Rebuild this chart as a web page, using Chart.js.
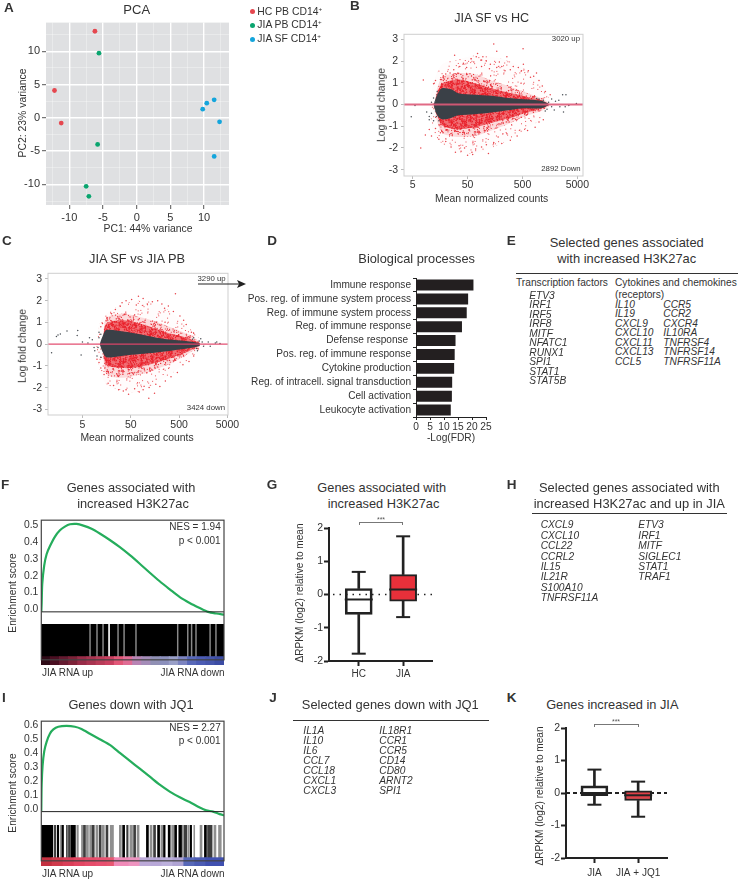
<!DOCTYPE html>
<html><head><meta charset="utf-8">
<script src="https://cdn.jsdelivr.net/npm/chart.js@4"></script>
<style>
html,body{margin:0;padding:0;background:#fff}
#fig{position:relative;width:738px;height:880px;overflow:hidden;font-family:"Liberation Sans",Arial,sans-serif;color:#333}
#fig canvas{position:absolute}
.t{position:absolute;white-space:pre;line-height:1}
.r{position:absolute;background:#333}
sup{font-size:.6em;line-height:0;vertical-align:.55em}
</style></head><body><div id="fig"></div>
<script>
/* ---------- A: PCA ---------- */
const pcaHcX=[-6.2,-12.2,-11.2], pcaHcY=[13,4.1,-0.8];
const pcaPbX=[-5.6,-5.8,-7.5,-7.1], pcaPbY=[9.7,-4,-10.3,-11.8];
const pcaSfX=[11.5,10.4,9.8,12.3,11.5], pcaSfY=[2.7,2.2,1.3,-0.6,-5.8];
const pcaLegend=["HC PB CD14","JIA PB CD14","JIA SF CD14"];
const pcaTicks=[-12.5,-10,-7.5,-5,-2.5,0,2.5,5,7.5,10,12.5];

/* ---------- B: MA plot, cloud outlines ---------- */
const maTicksX=[5,50,500,5000], maTicksY=[-3,-2,-1,0,1,2,3];
const bCoreX=[12,14,17,25,34,68,136,275,550,1100,1500];
const bCoreUp=[0,.45,.75,.7,.52,.45,.4,.3,.24,.17,.03];
const bCoreDn=[0,-.5,-.68,-.62,-.5,-.45,-.37,-.26,-.17,-.17,-.03];
const bInnerX=[13,17,25,34,68,136,275,550,1100,1500];
const bInnerUp=[.3,.95,1.1,1.15,.98,.75,.55,.38,.2,.05];
const bInnerDn=[-.3,-.95,-1.1,-1.15,-1.05,-.85,-.65,-.4,-.2,-.05];
const bMidUp=[.5,1.25,1.4,1.45,1.4,1.1,.85,.58,.3,.08];
const bMidDn=[-.55,-1.3,-1.45,-1.5,-1.45,-1.2,-.9,-.55,-.3,-.08];
const bOuterX=[10,12,17,34,68,136,275,550,1100,1700];
const bOuterUp=[0,1,1.84,2.07,2.25,2.2,2,1.65,1.05,0];
const bOuterDn=[0,-1.3,-1.8,-2.2,-2.25,-2,-1.65,-1.2,-.65,0];
const bRedDots=[[150,2.78],[513,2.56],[76,2.35],[72,2.2],[29,2.27],[7.8,1.13],[170,2.45],[95,2.2],[260,2.2],[110,2],[42,1.9],[58,2.1],[65,1.95],[88,2.05],[130,1.85],[190,1.95],[210,1.75],[340,1.75],[520,1.85],[640,1.55],[900,1.45],[1000,1.1],[1150,.85],[800,1.3],[700,1.25],[480,1.55],[420,1.7],[300,1.6],[240,1.55],[170,1.7],[125,1.65],[90,1.75],[48,1.7],[36,1.75],[28,1.6],[24,1.45],[20,1.4],[16,1.15],[13,1.1],[12,.95],[18,1.3],[1300,.6],[1600,.45],[50,-2.34],[7,-2],[60,-2.2],[38,-2.15],[30,-2.2],[62,-2.3],[120,-2.25],[90,-1.95],[25,-1.95],[20,-1.7],[15,-1.6],[11,-1.45],[8.5,-1.4],[10,-1.15],[13,-1.1],[16,-1.3],[70,-2.05],[150,-1.75],[210,-1.8],[300,-1.65],[400,-1.45],[620,-1.2],[850,-1.05],[1000,-.8],[1200,-.7],[180,-1.5],[260,-1.35],[110,-1.85],[35,-1.9],[44,-2]];
const bGreyDots=[[4.7,-.56],[5.5,-.05],[9,-.35],[10,-.55],[11,-.4],[12,-.75],[13,-.3],[11,.1],[12,.3],[10,-.7],[13.5,-.55],[14,.45],[14,.6],[15,-.75],[12.5,-.15],[13,.15],[1500,.1],[1700,.25],[2000,.15],[2300,.2],[2700,.45],[3100,.45],[2400,-.1],[3000,-.1],[3500,-.05],[4800,.05],[2800,-.35],[1900,-.25],[1700,-.1],[1300,-.3],[1000,.25],[1200,.2],[900,.28],[1400,-.22]];

/* ---------- C: MA plot ---------- */
const cCoreX=[11.4,13,15.7,35,77,170,375,830,1340];
const cCoreUp=[0,.35,.65,.58,.45,.3,.2,.12,.05];
const cCoreDn=[0,-.35,-.6,-.53,-.45,-.38,-.29,-.18,-.08];
const cInnerX=[13.4,15.7,35,77,170,375,830,1340];
const cInnerUp=[.2,.95,1.1,.95,.7,.45,.25,.05];
const cInnerDn=[-.2,-.95,-1.1,-1.05,-.85,-.6,-.3,-.05];
const cMidUp=[.3,1.2,1.4,1.25,1.03,.73,.42,.1];
const cMidDn=[-.5,-1.4,-1.55,-1.4,-1.15,-.85,-.4,-.1];
const cOuterX=[9.5,11.4,15.7,35,77,170,375,830,1340,1800];
const cOuterUp=[0,.95,1.4,1.86,2,1.9,1.4,.73,.25,0];
const cOuterDn=[0,-1.15,-1.85,-2.15,-2.2,-1.77,-1.3,-.7,-.25,0];
const cRedDots=[[420,2.32],[118,-2.49],[155,-2.26],[72,2.2],[90,2.1],[40,2],[52,2.05],[33,1.9],[140,1.95],[180,2],[220,1.85],[110,1.85],[300,1.75],[250,1.65],[380,1.5],[520,1.3],[620,1.1],[700,.9],[900,.55],[1000,.5],[24,1.6],[20,1.4],[16,1.2],[13,.95],[12,.8],[30,1.75],[65,1.8],[45,-2.3],[60,-2.05],[35,-2.15],[28,-2.1],[22,-1.9],[17,-1.8],[14,-1.4],[12,-1.1],[11,-.85],[10,-.7],[90,-2.1],[120,-2],[165,-1.85],[200,-1.95],[260,-1.7],[340,-1.5],[460,-1.3],[600,-.95],[800,-.8],[1000,-.55],[40,-2.1],[75,-2.2]];
const cGreyDots=[[1.56,.42],[1.75,.47],[1.45,.35],[2.4,.6],[1.15,-.4],[3.9,.4],[4,.63],[5,.1],[4.7,-.5],[7,.3],[8,.2],[6.5,.05],[8.7,-.15],[9,-.3],[10,-.55],[10.5,-.15],[11,.55],[11,.3],[12,-.6],[12,.45],[1500,.1],[2000,.1],[2800,.05],[3500,.03],[1600,-.1],[2200,-.1],[1400,.25],[1200,-.3],[1000,.3],[1300,.15],[1150,-.2],[950,.22],[3000,.1]];

/* ---------- D: biological processes ---------- */
const bpLabels=["Immune response","Pos. reg. of immune system process","Reg. of immune system process","Reg. of immune response","Defense response ","Pos. reg. of immune response","Cytokine production","Reg. of intracell. signal transduction","Cell activation","Leukocyte activation"];
const bpValues=[20.4,18.5,18,16.3,14,13.7,13.5,12.8,12.7,12.3];
const bpTicks=[0,5,10,15,20,25];

/* ---------- F and I: enrichment curves ---------- */
const gseaFRank=[0,.2,.5,1.6,2.9,4.7,7.5,10.2,12.9,15.7,19.3,23,27.5,32,37.5,43,48.5,53.9,59.4,64.8,70.3,75.8,81.2,86.7,91.3,95.8,100];
const gseaFScore=[0,.05,.164,.278,.345,.392,.45,.488,.51,.524,.526,.516,.497,.469,.43,.387,.339,.288,.234,.183,.135,.088,.053,.023,0,-.01,-.017];
const gseaFTicks=[0,.1,.2,.3,.4,.5];
const gseaFGaps=[26.8,30.6,33.9,42.1,45.4,51.9,74.7,80.2,82.3,84.7,92.4,95.6];
const gseaFGapBright=[37.2];
const gseaFStripEdges=[0,5,10,15,20,25,30,35,40,45,50,55,60,65,70,75,80,85,90,95,100];
const gseaFStripColors=["#2e0a16","#4a0f22","#641a30","#7c2238","#982c48","#a83450","#b83c58","#c84060","#e25878","#e06c94","#b884b4","#a48cb8","#9090b4","#8c90bc","#9aa0c8","#7c84c0","#5868b8","#4c5cb4","#4656ac","#3c4ca4"];
const gseaIRank=[0,.2,.7,1.6,2.9,4.7,6.6,9.3,13.8,18.4,22,26.6,32,37.5,43,48.5,53.9,59.4,64.8,70.3,75.8,81.2,86.7,90.3,94,97.6,100];
const gseaIScore=[0,.192,.328,.43,.498,.555,.586,.605,.611,.605,.589,.555,.516,.476,.419,.362,.306,.249,.192,.143,.102,.068,.029,.009,0,-.018,-.027];
const gseaITicks=[0,.1,.2,.3,.4,.5,.6];
const gseaIBlack=[[0,6.5],[8.9,9.7],[11.5,12.3],[16.5,18.8],[44.6,45.7],[57.6,58.7],[63.7,64.8],[67,67.8],[69.5,70.6],[73,74.1],[75.3,76.8],[81.6,82.3],[89.3,90.4]];
const gseaIDark=[[7.3,8.1],[13.9,14.4],[15,16.1],[23.2,24.3],[28,29.1],[31.8,32.9],[35.5,36.6],[46.8,47.6],[50.6,51.7],[61.5,62.6],[78.2,79.7],[91,93.5]];
const gseaIGrey=[[10.6,11.3],[19.6,20.4],[22.1,22.9],[24.8,25.9],[26.6,27.7],[30,31.1],[33.5,34.6],[37.8,39.6],[42.8,43.9],[48.6,50],[52.5,53.6],[59.6,60.7],[65.5,67.7],[71.4,72.5],[77,77.8],[80.3,81.1],[83.5,84],[86.9,88],[94.5,95.6],[97,98.5]];
const gseaIStripEdges=[0,6,12,18,24,30,36,40,48,54,60,66,72,78,84,90,100];
const gseaIStripColors=["#c43040","#d03a4c","#da3f58","#e24662","#e64c6a","#e85070","#e85670","#f08ab8","#ee94c0","#bcaad8","#b8a8d8","#bcb0dc","#b0a4d4","#5868b8","#4c5cb4","#4050b0"];

/* ---------- G and K: box plots (whisker low, Q1, median, Q3, whisker high) ---------- */
const boxGLabels=["HC","JIA"], boxGMin=[-1.78,-.68], boxGQ1=[-.6,-.2], boxGMed=[-.15,.15], boxGQ3=[.18,.6], boxGMax=[.68,1.75];
const boxKLabels=["JIA","JIA + JQ1"], boxKMin=[-.36,-.73], boxKQ1=[-.08,-.23], boxKMed=[0,-.07], boxKQ3=[.22,.07], boxKMax=[.72,.35];
const boxTicks=[-2,-1,0,1,2];

/* ---------- gene lists ---------- */
const eTf=["ETV3","IRF1","IRF5","IRF8","MITF","NFATC1","RUNX1","SPI1","STAT1","STAT5B"];
const eCyt1=["IL10","IL19","CXCL9","CXCL10","CXCL11","CXCL13","CCL5"];
const eCyt2=["CCR5","CCR2","CXCR4","IL10RA","TNFRSF4","TNFRSF14","TNFRSF11A"];
const hCol1=["CXCL9","CXCL10","CCL22","CCRL2","IL15","IL21R","S100A10","TNFRSF11A"];
const hCol2=["ETV3","IRF1","MITF","SIGLEC1","STAT1","TRAF1"];
const jCol1=["IL1A","IL10","IL6","CCL7","CCL18","CXCL1","CXCL3"];
const jCol2=["IL18R1","CCR1","CCR5","CD14","CD80","ARNT2","SPI1"];

/* ---------- helpers ---------- */
const fig=document.getElementById('fig');
const TXT='#333', AXIS='#222';
Chart.defaults.font.family='"Liberation Sans",Arial,sans-serif';
Chart.defaults.color=TXT;
Chart.defaults.animation=false;
Chart.defaults.responsive=false;
Chart.register({id:'panel',
  beforeDraw(c,a,o){ if(o.bg){const r=c.chartArea;c.ctx.fillStyle=o.bg;c.ctx.fillRect(r.left,r.top,r.width,r.height);} },
  afterDatasetsDraw(c,a,o){ if(o.frame){const r=c.chartArea;c.ctx.save();c.ctx.strokeStyle=o.frame;c.ctx.lineWidth=o.frameWidth||1;c.ctx.strokeRect(r.left,r.top,r.width,r.height);c.ctx.restore();} }
});
function T(s,x,y,o={}){const d=document.createElement('div');d.className='t';d.innerHTML=s;
  const a=o.a||'c',tx=a==='l'?'0':a==='r'?'-100%':'-50%';
  d.style.left=x+'px';d.style.top=y+'px';d.style.fontSize=(o.s||10.3)+'px';
  d.style.transform=`translate(${tx},-50%)`+(o.rot?' rotate(-90deg)':'');
  if(o.b)d.style.fontWeight='bold'; if(o.i)d.style.fontStyle='italic'; if(o.c)d.style.color=o.c;
  fig.appendChild(d);}
function L(x1,y1,x2,y2,c='#333'){const d=document.createElement('div');d.className='r';d.style.left=x1+'px';d.style.top=y1+'px';d.style.width=Math.max(x2-x1,1)+'px';d.style.height=Math.max(y2-y1,1)+'px';d.style.background=c;fig.appendChild(d);}
function list(a,x,y,dy){a.forEach((g,i)=>T(g,x,y+i*dy,{a:'l',i:1,s:10.2}));}
function cv(b,m){const c=document.createElement('canvas');c.width=b.r-b.l+m.l+m.r;c.height=b.b-b.t+m.t+m.b;c.style.left=(b.l-m.l)+'px';c.style.top=(b.t-m.t)+'px';c.style.width=c.width+'px';c.style.height=c.height+'px';fig.appendChild(c);return c;}
const pts=(xs,ys)=>xs.map((x,i)=>({x,y:ys[i]}));
const pairs=a=>a.map(p=>({x:p[0],y:p[1]}));
const fitW=w=>s=>{s.width=w;}, fitH=h=>s=>{s.height=h;};
const setTicks=v=>s=>{s.ticks=v.map(value=>({value}));};
/* fill style only, for the dense scatter clouds: a fixed, irregular stipple tile over a faint wash */
function stipple(count,wash,dot){const n=128,c=document.createElement('canvas');c.width=c.height=n;const g=c.getContext('2d');
  g.fillStyle=wash;g.fillRect(0,0,n,n);g.fillStyle=dot;
  for(let i=1;i<=count;i++){
    const x=((i*0.7548776662+0.09*Math.sin(i*1.7))%1+1)%1*n, y=((i*0.5698402910+0.09*Math.cos(i*2.3))%1+1)%1*n;
    g.fillRect(x,y,1,1);}
  return g.createPattern(c,'repeat');}
function area(xs,up,dn,color){return [
  {data:pts(xs,up),borderWidth:0,pointRadius:0,tension:.3,fill:'+1',backgroundColor:color},
  {data:pts(xs,dn),borderWidth:0,pointRadius:0,tension:.3,fill:false}];}

/* ---------- A ---------- */
(function(){const b={l:46,t:22,r:229,b:205},m={l:46,t:8,r:10,b:20};
new Chart(cv(b,m),{type:'line',data:{datasets:[
  {label:pcaLegend[0],data:pts(pcaHcX,pcaHcY),showLine:false,pointRadius:2.4,pointBorderWidth:0,pointBackgroundColor:'#e5474f'},
  {label:pcaLegend[1],data:pts(pcaPbX,pcaPbY),showLine:false,pointRadius:2.4,pointBorderWidth:0,pointBackgroundColor:'#0aa56f'},
  {label:pcaLegend[2],data:pts(pcaSfX,pcaSfY),showLine:false,pointRadius:2.4,pointBorderWidth:0,pointBackgroundColor:'#14a5dc'}]},
 options:{layout:{padding:{top:m.t,right:m.r}},plugins:{legend:{display:false},panel:{bg:'#dfe0e2'}},
  scales:{
   x:{type:'linear',min:-13.46,max:13.7,afterFit:fitH(m.b),afterBuildTicks:setTicks(pcaTicks),border:{display:false},
     grid:{color:c=>c.tick.value%5===0?'#fff':'rgba(255,255,255,.55)',lineWidth:c=>c.tick.value%5===0?1.4:.6,tickLength:4,tickColor:c=>c.tick.value%5===0?'#555':'transparent',tickWidth:1},
     ticks:{autoSkip:false,maxRotation:0,padding:2,font:{size:11},callback:v=>v%5===0?v:''}},
   y:{type:'linear',min:-13.1,max:14.3,afterFit:fitW(m.l),afterBuildTicks:setTicks(pcaTicks),border:{display:false},
     grid:{color:c=>c.tick.value%5===0?'#fff':'rgba(255,255,255,.55)',lineWidth:c=>c.tick.value%5===0?1.4:.6,tickLength:4,tickColor:c=>c.tick.value%5===0?'#555':'transparent',tickWidth:1},
     ticks:{autoSkip:false,padding:2,font:{size:11},callback:v=>v%5===0?v:''}}}}});
})();
T('A',4,8,{a:'l',b:1,s:13.5});
T('PCA',136.7,8.7,{s:13});
[['#e5474f',11.7],['#0aa56f',25],['#14a5dc',39.3]].forEach((p,i)=>{
  const d=document.createElement('div');d.style.cssText=`position:absolute;left:249.5px;top:${p[1]-2.5}px;width:5px;height:5px;border-radius:50%;background:${p[0]}`;fig.appendChild(d);
  T(pcaLegend[i]+'<sup>+</sup>',257.3,p[1],{a:'l',s:10.4});});
T('PC1: 44% variance',148,229,{s:10.4});
T('PC2: 23% variance',22.7,112.7,{s:10.4,rot:1});

/* ---------- B, C ---------- */
function maChart(b,m,xMin,xMax,yMin,yMax,S,lineW,lineC,xPad){
 const ds=[
  {data:[{x:xMin,y:0},{x:xMax,y:0}],borderColor:lineC,borderWidth:lineW,pointRadius:0},
  {data:pairs(S.grey),showLine:false,pointRadius:.75,pointBorderWidth:0,pointBackgroundColor:'#4a5056'},
  ...area(S.coreX,S.coreUp,S.coreDn,'#3a4047'),
  {data:pairs(S.red),showLine:false,pointRadius:.75,pointBorderWidth:0,pointBackgroundColor:'#e8434a'},
  ...area(S.innerX,S.innerUp,S.innerDn,stipple(9000,'rgba(232,38,46,.6)','#e8222c')),
  ...area(S.innerX,S.midUp,S.midDn,stipple(3600,'rgba(235,50,58,.16)','#e8303a')),
  ...area(S.outerX,S.outerUp,S.outerDn,stipple(800,'rgba(238,70,78,.015)','#ec5058'))];
 new Chart(cv(b,m),{type:'line',data:{datasets:ds},options:{layout:{padding:{top:m.t,right:m.r}},
  plugins:{legend:{display:false},panel:{frame:'#cfcfcf'}},
  scales:{
   x:{type:'logarithmic',min:xMin,max:xMax,afterFit:fitH(m.b),afterBuildTicks:setTicks(maTicksX),border:{display:false},
     grid:{drawOnChartArea:false,tickLength:3,tickColor:'#bbb'},ticks:{autoSkip:false,maxRotation:0,padding:xPad,font:{size:10.5},callback:v=>String(v)}},
   y:{type:'linear',min:yMin,max:yMax,afterFit:fitW(m.l),afterBuildTicks:setTicks(maTicksY),border:{display:false},
     grid:{drawOnChartArea:false,tickLength:3,tickColor:'#bbb'},ticks:{autoSkip:false,padding:3,font:{size:10.5}}}}}});
}
maChart({l:404,t:32.7,r:583,b:175.7},{l:30,t:8,r:14,b:18},3.47,6340,-3.29,3.23,
 {coreX:bCoreX,coreUp:bCoreUp,coreDn:bCoreDn,innerX:bInnerX,innerUp:bInnerUp,innerDn:bInnerDn,midUp:bMidUp,midDn:bMidDn,outerX:bOuterX,outerUp:bOuterUp,outerDn:bOuterDn,red:bRedDots,grey:bGreyDots},2,'rgba(222,90,120,.9)',0);
maChart({l:48.3,t:272.3,r:228.3,b:415.7},{l:30,t:8,r:14,b:18},.97,5130,-3.26,3.26,
 {coreX:cCoreX,coreUp:cCoreUp,coreDn:cCoreDn,innerX:cInnerX,innerUp:cInnerUp,innerDn:cInnerDn,midUp:cMidUp,midDn:cMidDn,outerX:cOuterX,outerUp:cOuterUp,outerDn:cOuterDn,red:cRedDots,grey:cGreyDots},1.2,'rgba(226,70,105,.95)',1);
T('B',350,6,{a:'l',b:1,s:13.5});
T('JIA SF vs HC',491.7,18.3,{s:12.6});
T('3020 up',580,38.7,{a:'r',s:7.8});
T('2892 Down',580.7,168.7,{a:'r',s:7.8});
T('Log fold change',381.7,105.3,{s:10.4,rot:1});
T('Mean normalized counts',491.7,199.3,{s:10.4});
T('C',2,241,{a:'l',b:1,s:13.5});
T('JIA SF vs JIA PB',137,259,{s:12.8});
T('3290 up',225.7,278.7,{a:'r',s:7.8});
T('3424 down',225,408.3,{a:'r',s:7.8});
T('Log fold change',23.3,346,{s:10.4,rot:1});
T('Mean normalized counts',137,438,{s:10.4});
(function(){const s=document.createElementNS('http://www.w3.org/2000/svg','svg');s.setAttribute('width','60');s.setAttribute('height','14');s.style.cssText='position:absolute;left:192px;top:277px';
 s.innerHTML='<line x1="6" y1="7" x2="48" y2="7" stroke="#222" stroke-width="1"/><path d="M54 7 L45 3 L47 7 L45 11 Z" fill="#222"/>';fig.appendChild(s);})();

/* ---------- D ---------- */
(function(){const b={l:416.3,t:274,r:487,b:417.3},m={l:186,t:4,r:10,b:14};
new Chart(cv(b,m),{type:'bar',data:{labels:bpLabels,datasets:[{data:bpValues,backgroundColor:'#231f20',barThickness:10.3}]},
 options:{indexAxis:'y',layout:{padding:{top:m.t,right:m.r}},plugins:{legend:{display:false}},
 scales:{
  x:{type:'linear',min:0,max:25,afterFit:fitH(m.b),afterBuildTicks:setTicks(bpTicks),border:{color:AXIS},
    grid:{drawOnChartArea:false,tickLength:3,tickColor:AXIS},ticks:{autoSkip:false,maxRotation:0,padding:1,font:{size:10.2}}},
  y:{afterFit:fitW(m.l),border:{color:AXIS},grid:{drawOnChartArea:false,tickLength:3,tickColor:AXIS},ticks:{autoSkip:false,padding:2,font:{size:10.1}}}}}});
})();
T('D',267.3,241,{a:'l',b:1,s:13.5});
T('Biological processes',416.7,259,{s:12.8});
T('-Log(FDR)',451,438,{s:10.2});

/* ---------- E ---------- */
T('E',506.7,241,{a:'l',b:1,s:13.5});
T('Selected genes associated',626.7,243.3,{s:12.9});
T('with increased H3K27ac',626.7,259,{s:12.9});
L(516,272.5,738,273.5);
T('Transcription factors',516,283,{a:'l',s:10.2});
T('Cytokines and chemokines',615,283,{a:'l',s:10.2});
T('(receptors)',615,295.3,{a:'l',s:10.2});
list(eTf,529.3,296,9.45); list(eCyt1,615,305,9.45); list(eCyt2,663.3,305,9.45);

/* ---------- F, I ---------- */
function rug(b,stripH,rugH,stripEdges,stripColors,layers){
 const h=stripH+rugH, ds=[];
 const row=(segs,color,y,th)=>ds.push({data:segs.map(p=>({x:[p[0],p[1]],y})),backgroundColor:color,barThickness:th,grouped:false});
 const cells=stripEdges.slice(0,-1).map((e,i)=>[e,stripEdges[i+1]+.2]);
 row(cells,stripColors,stripH/2,stripH);
 layers.forEach(l=>row(l.segs,l.color,stripH+rugH/2,rugH));
 new Chart(cv(b,{l:0,t:0,r:0,b:0}),{type:'bar',data:{datasets:ds},options:{indexAxis:'y',plugins:{legend:{display:false}},
  scales:{x:{type:'linear',min:0,max:100,display:false},y:{type:'linear',min:0,max:h,offset:false,display:false}}}});
}
function gsea(b,m,yMin,yMax,rank,score,ticks,off){
 new Chart(cv(b,m),{type:'line',data:{datasets:[
   {data:[{x:0,y:0},{x:100,y:0}],borderColor:'#222',borderWidth:1,pointRadius:0},
   {data:pts(rank,score),borderColor:'#25ad5c',borderWidth:2.2,pointRadius:0,tension:.25}]},
  options:{layout:{padding:{top:m.t,right:m.r,bottom:m.b}},plugins:{legend:{display:false},panel:{frame:'#444',frameWidth:1.2}},
  scales:{x:{type:'linear',min:0,max:100,display:false},
   y:{type:'linear',min:yMin,max:yMax,afterFit:fitW(m.l),afterBuildTicks:setTicks(ticks),border:{display:false},
      grid:{display:false,drawTicks:false,tickLength:0},ticks:{autoSkip:false,padding:3,labelOffset:off,font:{size:10.3},callback:v=>v.toFixed(1)}}}}});
}
rug({l:41.3,t:624,r:224.5,b:665.5},8.5,33,gseaFStripEdges,gseaFStripColors,[
  {segs:gseaFGapBright.map(v=>[v-.3,v+.3]),color:'#eee'},
  {segs:gseaFGaps.map(v=>[v-.22,v+.22]),color:'#8a8a8a'},
  {segs:[[0,100]],color:'#000'}]);
gsea({l:41.3,t:519.3,r:224.5,b:665.5},{l:41.3,t:8,r:4,b:4},-.287,.5486,gseaFRank,gseaFScore,gseaFTicks,-2.7);
T('F',1,485,{a:'l',b:1,s:13.5});
T('Genes associated with',131,488.3,{s:12.8});
T('increased H3K27ac',133,504,{s:12.8});
T('NES = 1.94',220.7,527.3,{a:'r',s:10});
T('p &lt; 0.001',220.7,540.7,{a:'r',s:10});
T('Enrichment score',13.3,592.7,{s:10.2,rot:1});
T('JIA RNA up',42,673.3,{a:'l',s:10});
T('JIA RNA down',224.5,673.3,{a:'r',s:10});

rug({l:41.3,t:825.3,r:224.7,b:866.7},8.4,33,gseaIStripEdges,gseaIStripColors,[
  {segs:gseaIBlack,color:'#000'},{segs:gseaIDark,color:'#3c3c3c'},{segs:gseaIGrey,color:'#8f8f8f'}]);
gsea({l:41.3,t:720,r:224.7,b:866.7},{l:41.3,t:8,r:4,b:4},-.351,.645,gseaIRank,gseaIScore,gseaITicks,-2.4);
T('I',2,698.3,{a:'l',b:1,s:13.5});
T('Genes down with JQ1',131,705,{s:12.8});
T('NES = 2.27',220.7,728,{a:'r',s:10});
T('p &lt; 0.001',220.7,741,{a:'r',s:10});
T('Enrichment score',13.3,793,{s:10.2,rot:1});
T('JIA RNA up',42,874,{a:'l',s:10});
T('JIA RNA down',224.5,874,{a:'r',s:10});

/* ---------- G, K ---------- */
function box(b,m,xMin,xMax,dashStart,dash,dashW,labels,lo,q1,med,q3,hi,redColor,labPad){
 const xs=[1,2];
 new Chart(cv(b,m),{type:'bar',data:{datasets:[
   {type:'line',data:pts(xs,med),showLine:false,pointStyle:'line',pointRadius:14,pointBorderWidth:2,pointBorderColor:AXIS},
   {type:'line',data:pts(xs,hi),showLine:false,pointStyle:'line',pointRadius:7,pointBorderWidth:2,pointBorderColor:AXIS},
   {type:'line',data:pts(xs,lo),showLine:false,pointStyle:'line',pointRadius:7,pointBorderWidth:2,pointBorderColor:AXIS},
   {data:xs.map((x,i)=>({x,y:[q1[i],q3[i]]})),barThickness:27,grouped:false,borderWidth:2,borderSkipped:false,borderColor:AXIS,backgroundColor:['rgba(255,255,255,0)',redColor]},
   {data:xs.map((x,i)=>({x,y:[q3[i],hi[i]]})),barThickness:2,grouped:false,backgroundColor:AXIS},
   {data:xs.map((x,i)=>({x,y:[lo[i],q1[i]]})),barThickness:2,grouped:false,backgroundColor:AXIS},
   {type:'line',data:[{x:dashStart,y:0},{x:xMax,y:0}],borderColor:AXIS,borderWidth:dashW,borderDash:dash,pointRadius:0}]},
  options:{layout:{padding:{top:m.t,right:m.r}},plugins:{legend:{display:false}},
  scales:{
   x:{type:'linear',offset:false,min:xMin,max:xMax,afterFit:fitH(m.b),afterBuildTicks:setTicks(xs),border:{color:AXIS,width:2},
      grid:{offset:false,drawOnChartArea:false,tickLength:5,tickColor:AXIS,tickWidth:2},
      ticks:{autoSkip:false,maxRotation:0,padding:labPad,font:{size:10},callback:v=>labels[v-1]}},
   y:{type:'linear',min:-2,max:2,afterFit:fitW(m.l),afterBuildTicks:setTicks(boxTicks),border:{color:AXIS,width:2},
      grid:{drawOnChartArea:false,tickLength:5,tickColor:AXIS,tickWidth:2},
      ticks:{autoSkip:false,padding:1,font:{size:10.5}}}}}});
}
box({l:329,t:519.7,r:432,b:661},{l:24,t:8,r:30,b:19},.33,2.65,.42,[1.5,5],1.5,boxGLabels,boxGMin,boxGQ1,boxGMed,boxGQ3,boxGMax,'#e8303a',2);
T('G',266.7,485,{a:'l',b:1,s:13.5});
T('Genes associated with',381.7,488.3,{s:12.8});
T('increased H3K27ac',383.5,504,{s:12.8});
T('\u0394RPKM (log2) relative to mean',300,593,{s:10.1,rot:1});
L(358.7,522,403,522.8,'#777');L(358.7,522,359.5,524.5,'#777');L(402.2,522,403,524.5,'#777');
T('***',381,518.5,{s:7,c:'#555'});

box({l:565.7,t:720,r:667.3,b:858.3},{l:24,t:8,r:30,b:21},.35,2.66,.35,[4,3],2,boxKLabels,boxKMin,boxKQ1,boxKMed,boxKQ3,boxKMax,'#e04048',4);
T('K',506.7,697.7,{a:'l',b:1,s:13.5});
T('Genes increased in JIA',612.3,705,{s:12.8});
T('\u0394RPKM (log2) relative to mean',540,796,{s:10.1,rot:1});
L(594,724,638.3,724.8,'#777');L(594,724,594.8,726.5,'#777');L(637.5,724,638.3,726.5,'#777');
T('***',616,720.5,{s:7,c:'#555'});

/* ---------- H, J ---------- */
T('H',506.7,485,{a:'l',b:1,s:13.5});
T('Selected genes associated with',629.3,488.3,{s:12.9});
T('increased H3K27ac and up in JIA',629.3,504,{s:12.9});
L(532.3,513.2,727.3,514.2);
list(hCol1,540.7,525.3,10.43); list(hCol2,638.3,525.3,10.43);
T('J',269.3,698.3,{a:'l',b:1,s:13.5});
T('Selected genes down with JQ1',390.3,705,{s:12.9});
L(293.3,719.5,489,720.5);
list(jCol1,303.3,731,10); list(jCol2,379.3,731,10);
</script></body></html>
